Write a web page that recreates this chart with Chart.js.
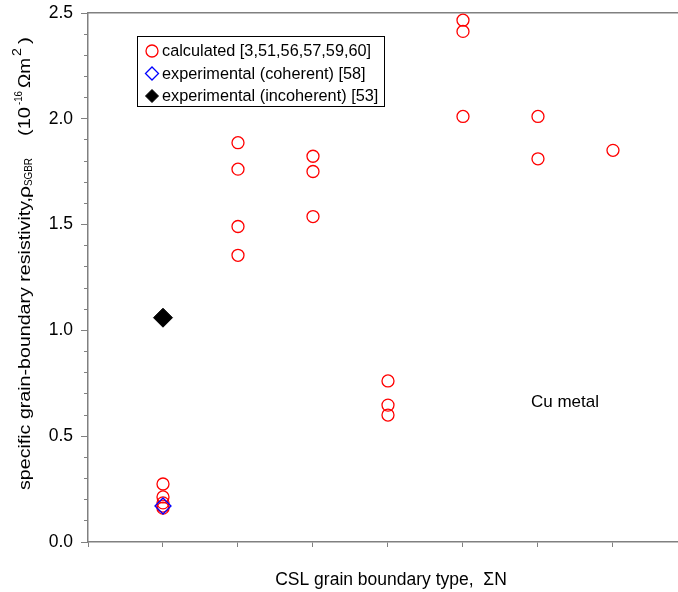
<!DOCTYPE html>
<html>
<head>
<meta charset="utf-8">
<script src="https://cdn.jsdelivr.net/npm/chart.js@4.4.0/dist/chart.umd.min.js"></script>
<style>
  html, body { margin: 0; padding: 0; background: #fff; }
  #wrap { width: 678px; height: 592px; }
</style>
</head>
<body>
<div id="wrap"><canvas id="chart" width="678" height="592"></canvas></div>
<script>
// CSL boundary types are plotted at positions 1..7 along the x axis
const calcX = [1, 1, 1, 1, 1, 2, 2, 2, 2, 3, 3, 3, 4, 4, 4, 5, 5, 5, 6, 6, 7];
const calcY = [0.274, 0.213, 0.185, 0.170, 0.160, 1.887, 1.762, 1.491, 1.355, 1.823, 1.751, 1.538, 0.761, 0.647, 0.600, 2.466, 2.413, 2.011, 2.011, 1.811, 1.851];
const coherentX = [1];
const coherentY = [0.17];
const incoherentX = [1];
const incoherentY = [1.06];

const yMajorTicks = [0, 0.5, 1.0, 1.5, 2.0, 2.5];
const legendLabels = [
    'calculated [3,51,56,57,59,60]',
    'experimental (coherent) [58]',
    'experimental (incoherent) [53]'
];

const FONT = '"Liberation Sans", Arial, sans-serif';
const AXIS_GRAY = '#808080';

function toPoints(xs, ys) {
    return xs.map((x, i) => ({ x: x, y: ys[i] }));
}

// y title, x title, note and legend box
const decorations = {
    id: 'decorations',
    afterDraw(chart) {
        const ctx = chart.ctx;
        ctx.save();
        ctx.fillStyle = '#000';
        ctx.textBaseline = 'alphabetic';
        ctx.textAlign = 'left';

        // y title: each piece runs upward from page y "start" to "end"
        const parts = [
            { t: 'specific grain-boundary resistivity,', size: 16, start: 490, end: 197, dy: 0 },
            { t: '\u03C1', size: 17, start: 198, end: 186, dy: 0 },
            { t: 'SGBR', size: 11, start: 186, end: 158, dy: 2 },
            { t: '(10', size: 16, start: 136, end: 107, dy: 0 },
            { t: '-16', size: 11, start: 105, end: 91, dy: -8 },
            { t: '\u03A9m', size: 16, start: 88, end: 58, dy: 0 },
            { t: '2', size: 12, start: 56, end: 48, dy: -9 },
            { t: ')', size: 16, start: 44, end: 37, dy: 0 }
        ];
        ctx.translate(30, 0);
        ctx.rotate(-Math.PI / 2);
        parts.forEach(p => {
            ctx.font = p.size + 'px ' + FONT;
            const w = ctx.measureText(p.t).width;
            const sx = (p.start - p.end) / w;
            ctx.save();
            ctx.translate(-p.start, p.dy);
            ctx.scale(sx, 1);
            ctx.fillText(p.t, 0, 0);
            ctx.restore();
        });
        ctx.setTransform(1, 0, 0, 1, 0, 0);

        // x title
        ctx.font = '17.5px ' + FONT;
        ctx.textAlign = 'center';
        ctx.fillText('CSL grain boundary type,  \u03A3N', 391, 585);

        // note
        ctx.font = '17px ' + FONT;
        ctx.textAlign = 'left';
        ctx.fillText('Cu metal', 531, 407);

        // legend
        const bx = 137.5, by = 36.5, bw = 247, bh = 70;
        ctx.fillStyle = '#fff';
        ctx.fillRect(bx, by, bw, bh);
        ctx.strokeStyle = '#000';
        ctx.lineWidth = 1;
        ctx.strokeRect(bx, by, bw, bh);
        const rowY = [51, 73.5, 96];
        chart.data.datasets.forEach((ds, i) => {
            const r = ds.pointStyle === 'circle' ? 6 : 6.5;
            ctx.strokeStyle = ds.borderColor;
            ctx.fillStyle = ds.backgroundColor;
            ctx.lineWidth = ds.borderWidth;
            Chart.helpers.drawPoint(ctx, { pointStyle: ds.pointStyle, radius: r, borderWidth: ds.borderWidth }, 152, rowY[i]);
            ctx.fillStyle = '#000';
            ctx.font = '16.3px ' + FONT;
            ctx.textBaseline = 'middle';
            ctx.fillText(legendLabels[i], 162, rowY[i] + 1);
        });
        ctx.restore();
    }
};

new Chart(document.getElementById('chart'), {
    type: 'scatter',
    data: {
        datasets: [{
            label: legendLabels[0],
            data: toPoints(calcX, calcY),
            pointStyle: 'circle',
            pointRadius: 6,
            borderColor: '#ff0000',
            backgroundColor: 'rgba(0,0,0,0)',
            borderWidth: 1.3,
            order: 2
        }, {
            label: legendLabels[1],
            data: toPoints(coherentX, coherentY),
            pointStyle: 'rectRot',
            pointRadius: 8,
            borderColor: '#0000ff',
            backgroundColor: 'rgba(0,0,0,0)',
            borderWidth: 1.3,
            order: 1
        }, {
            label: legendLabels[2],
            data: toPoints(incoherentX, incoherentY),
            pointStyle: 'rectRot',
            pointRadius: 9.5,
            borderColor: '#000',
            backgroundColor: '#000',
            borderWidth: 1,
            order: 0
        }]
    },
    options: {
        responsive: false,
        animation: false,
        events: [],
        layout: { autoPadding: false, padding: { top: 13, left: 0, right: 0, bottom: 0 } },
        plugins: {
            legend: { display: false },
            tooltip: { enabled: false }
        },
        scales: {
            x: {
                type: 'linear',
                position: 'bottom',
                min: 0,
                max: 7.867,
                afterBuildTicks: s => { s.ticks = [0, 1, 2, 3, 4, 5, 6, 7].map(v => ({ value: v })); },
                afterFit: s => { s.height = 50; s.paddingLeft = 0; s.paddingRight = 0; },
                ticks: { display: false },
                grid: { drawOnChartArea: false, drawTicks: true, tickLength: 5, color: AXIS_GRAY, lineWidth: 1 },
                border: { display: true, color: AXIS_GRAY, width: 1.5 }
            },
            xTop: {
                type: 'linear',
                position: 'top',
                min: 0,
                max: 7.867,
                afterFit: s => { s.height = 0; s.paddingLeft = 0; s.paddingRight = 0; },
                ticks: { display: false },
                grid: { display: false },
                border: { display: true, color: AXIS_GRAY, width: 1.5 }
            },
            y: {
                min: 0,
                max: 2.5,
                weight: 1,
                afterBuildTicks: s => { s.ticks = yMajorTicks.map(v => ({ value: v })); },
                afterFit: s => { s.width = 88; s.paddingTop = 0; s.paddingBottom = 0; },
                ticks: {
                    color: '#000',
                    font: { family: FONT, size: 17.5 },
                    padding: 8,
                    callback: v => v.toFixed(1)
                },
                grid: { drawOnChartArea: false, tickLength: 7, color: AXIS_GRAY, lineWidth: 1 },
                border: { display: true, color: AXIS_GRAY, width: 1.5 }
            },
            yMinor: {
                position: 'left',
                min: 0,
                max: 2.5,
                weight: 0,
                afterBuildTicks: s => {
                    const t = [];
                    for (let i = 0; i <= 25; i++) t.push({ value: i / 10 });
                    s.ticks = t;
                },
                afterFit: s => { s.width = 0; s.paddingTop = 0; s.paddingBottom = 0; },
                ticks: { display: false },
                grid: { drawOnChartArea: false, tickLength: 4, color: AXIS_GRAY, lineWidth: 1 },
                border: { display: false }
            }
        }
    },
    plugins: [decorations]
});
</script>
</body>
</html>
